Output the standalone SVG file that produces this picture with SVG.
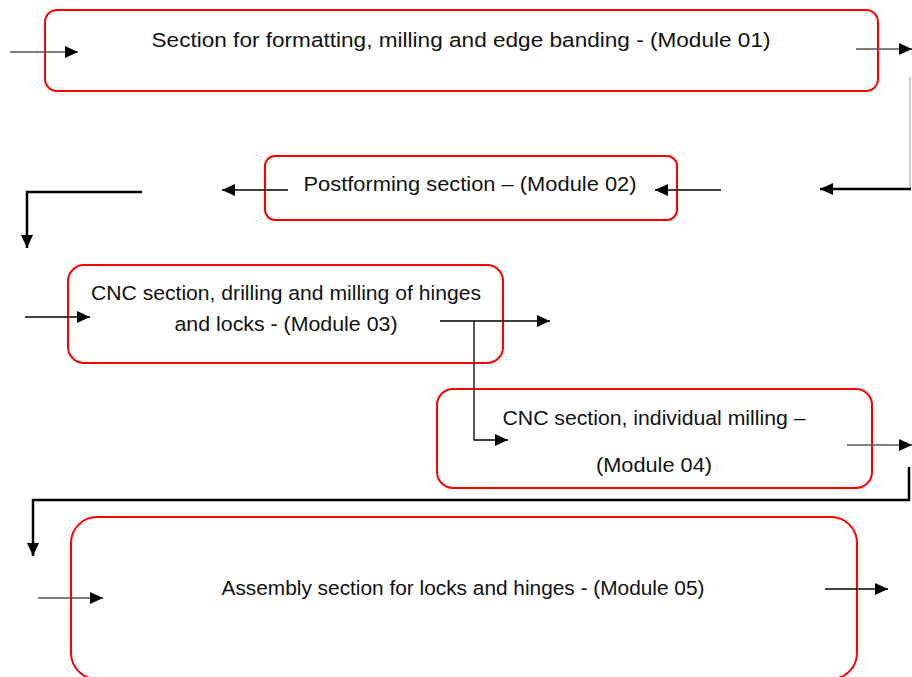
<svg xmlns="http://www.w3.org/2000/svg" width="912" height="677" viewBox="0 0 912 677">
<style>
.box{fill:#fff;stroke:#f00;stroke-width:2}
.t{font-family:"Liberation Sans",Arial,sans-serif;font-size:20.5px;fill:#111;text-anchor:middle}
.c{fill:none;stroke:#000;stroke-width:1.3}
.g{fill:none;stroke:#555;stroke-width:1.3}
.k{fill:none;stroke:#000;stroke-width:2.5}
</style>
<defs>
<marker id="a" markerUnits="userSpaceOnUse" markerWidth="14" markerHeight="12" refX="13" refY="6" orient="auto"><path d="M0,0 L13,6 L0,12 Z" fill="#000"/></marker>
</defs>
<rect width="912" height="677" fill="#fff"/>
<g id="n1"><rect class="box" x="45" y="10" width="833" height="81" rx="12"/>
<text class="t" x="461" y="47" textLength="619" lengthAdjust="spacingAndGlyphs">Section for formatting, milling and edge banding - (Module 01)</text></g>
<g id="n2"><rect class="box" x="265" y="156" width="412" height="64" rx="10"/>
<text class="t" x="470" y="191" textLength="333" lengthAdjust="spacingAndGlyphs">Postforming section – (Module 02)</text></g>
<g id="n3"><rect class="box" x="68" y="265" width="435" height="98" rx="16"/>
<text class="t" x="286" y="300" textLength="390" lengthAdjust="spacingAndGlyphs">CNC section, drilling and milling of hinges</text>
<text class="t" x="286" y="331" textLength="223" lengthAdjust="spacingAndGlyphs">and locks - (Module 03)</text></g>
<g id="n4"><rect class="box" x="437" y="389" width="435" height="99" rx="16"/>
<text class="t" x="654" y="425" textLength="303" lengthAdjust="spacingAndGlyphs">CNC section, individual milling –</text>
<text class="t" x="654" y="472" textLength="116" lengthAdjust="spacingAndGlyphs">(Module 04)</text></g>
<g id="n5"><rect class="box" x="71" y="517" width="786" height="162" rx="26"/>
<text class="t" x="463" y="595" textLength="483" lengthAdjust="spacingAndGlyphs">Assembly section for locks and hinges - (Module 05)</text></g>
<g id="connectors">
<line class="g" x1="10" y1="52" x2="78" y2="52" marker-end="url(#a)"/>
<line class="g" x1="856" y1="49" x2="912" y2="49" marker-end="url(#a)"/>
<line x1="910" y1="77" x2="910" y2="189" stroke="#aaa" stroke-width="1.2"/>
<line class="k" x1="911" y1="189" x2="820" y2="189" marker-end="url(#a)"/>
<line class="c" x1="721" y1="190" x2="655" y2="190" marker-end="url(#a)"/>
<line class="c" x1="288" y1="190" x2="222" y2="190" marker-end="url(#a)"/>
<polyline class="k" points="142,192 27,192 27,248" marker-end="url(#a)"/>
<line class="c" x1="25" y1="317" x2="90" y2="317" marker-end="url(#a)"/>
<line class="c" x1="440" y1="321" x2="550" y2="321" marker-end="url(#a)"/>
<polyline class="c" points="474,321 474,440 508,440" marker-end="url(#a)"/>
<line class="g" x1="847" y1="445" x2="912" y2="445" marker-end="url(#a)"/>
<polyline class="k" points="909,467 909,500 33,500 33,556" marker-end="url(#a)"/>
<line class="g" x1="38" y1="598" x2="103" y2="598" marker-end="url(#a)"/>
<line class="c" x1="825" y1="589" x2="888" y2="589" marker-end="url(#a)"/>
</g>
</svg>
